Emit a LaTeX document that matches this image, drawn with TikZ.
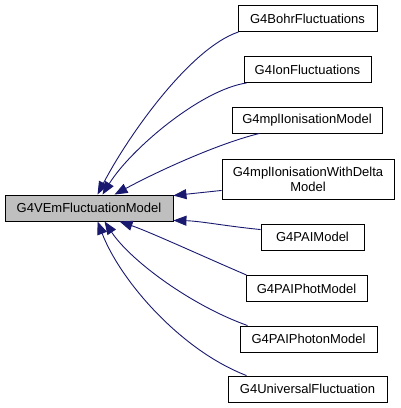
\documentclass[tikz,border=0pt]{standalone}
\usepackage{fontspec}
\setmainfont{Liberation Sans}
\usetikzlibrary{arrows.meta}
\definecolor{edgeblue}{RGB}{25,25,112}
\definecolor{basegray}{RGB}{191,191,191}
\begin{document}
\begin{tikzpicture}[x=1pt,y=-1pt,
  box/.style={draw=black,line width=0.9pt,rectangle,inner sep=0pt,minimum height=26pt,
    font=\fontsize{13}{15}\selectfont,align=center},
  edge/.style={draw=edgeblue,line width=0.9pt,-{Triangle[length=13pt,width=10pt]}}]
\useasboundingbox (0,0) rectangle (400,408);
\node[box,fill=basegray,minimum width=168pt] (base) at (89,208) {G4VEmFluctuationModel};
\node[box,minimum width=139pt] (bohr) at (307.5,18.5) {G4BohrFluctuations};
\node[box,minimum width=127pt] (ion) at (307.5,69.5) {G4IonFluctuations};
\node[box,minimum width=150pt] (mpl) at (307,120) {G4mplIonisationModel};
\node[box,minimum width=172pt,minimum height=40pt] (delta) at (308,179) {G4mplIonisationWithDelta\\Model};
\node[box,minimum width=103pt] (pai) at (312.5,237) {G4PAIModel};
\node[box,minimum width=121pt] (phot) at (306.5,288.5) {G4PAIPhotModel};
\node[box,minimum width=137pt] (photon) at (308.5,339) {G4PAIPhotonModel};
\node[box,minimum width=159pt] (univ) at (307.5,389) {G4UniversalFluctuation};
\path[edge] ([xshift=1pt]bohr.south west) .. controls (190,48) and (128,136) .. ([xshift=93pt]base.north west);
\path[edge] ([xshift=3pt]ion.south west) .. controls (200,90) and (130,150) .. ([xshift=98pt]base.north west);
\path[edge] ([xshift=28pt]mpl.south west) .. controls (220,143) and (160,170) .. ([xshift=110pt]base.north west);
\path[edge] ([yshift=9pt]delta.south west) -- ([yshift=-1pt]base.north east);
\path[edge] ([yshift=-6pt]pai.north west) .. controls (225,226) and (200,221) .. ([yshift=1pt]base.south east);
\path[edge] ([xshift=1pt]phot.north west) .. controls (200,255) and (150,232) .. ([xshift=115pt]base.south west);
\path[edge] ([xshift=8pt]photon.north west) .. controls (190,305) and (130,260) .. ([xshift=100pt]base.south west);
\path[edge] ([xshift=19pt]univ.north west) .. controls (180,350) and (120,280) .. ([xshift=93pt]base.south west);
\end{tikzpicture}
\end{document}
